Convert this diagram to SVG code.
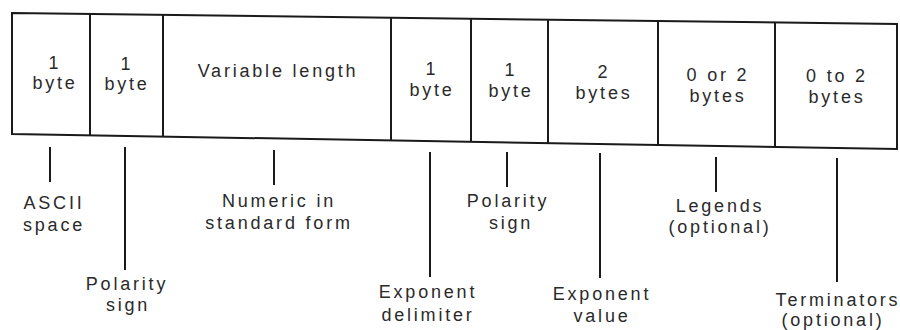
<svg xmlns="http://www.w3.org/2000/svg" width="900" height="330" viewBox="0 0 900 330">
<style>
.box{fill:none;stroke:#1a1a1a;stroke-width:2}
.div{stroke:#1a1a1a;stroke-width:2}
.lead{stroke:#1a1a1a;stroke-width:2}
text{font-family:"Liberation Sans",Arial,sans-serif;font-size:18px;fill:#2a2a2a;text-anchor:middle;letter-spacing:2.8px}
</style>
<rect width="900" height="330" fill="#ffffff"/>
<g id="record">
<polygon class="box" points="12,13 897,24 897,149 12,134"/>
<line class="div" x1="90" y1="14" x2="90" y2="135.3"/>
<line class="div" x1="163" y1="14.9" x2="163" y2="136.6"/>
<line class="div" x1="391" y1="17.7" x2="391" y2="140.4"/>
<line class="div" x1="471" y1="18.7" x2="471" y2="141.8"/>
<line class="div" x1="548" y1="19.7" x2="548" y2="143.1"/>
<line class="div" x1="658" y1="21" x2="658" y2="145"/>
<line class="div" x1="775" y1="22.5" x2="775" y2="146.9"/>
</g>
<g id="field1"><text x="55" y="69">1</text><text x="55" y="89">byte</text></g>
<g id="field2"><text x="127" y="70">1</text><text x="127" y="90">byte</text></g>
<g id="field3"><text x="278" y="77">Variable length</text></g>
<g id="field4"><text x="432" y="75">1</text><text x="432" y="96">byte</text></g>
<g id="field5"><text x="511" y="76">1</text><text x="511" y="97">byte</text></g>
<g id="field6"><text x="604" y="78">2</text><text x="604" y="99">bytes</text></g>
<g id="field7"><text x="718" y="81">0 or 2</text><text x="718" y="102">bytes</text></g>
<g id="field8"><text x="837" y="82">0 to 2</text><text x="837" y="103">bytes</text></g>
<g id="connectors">
<line class="lead" x1="50" y1="147" x2="50" y2="182"/>
<line class="lead" x1="125" y1="147" x2="125" y2="270"/>
<line class="lead" x1="274" y1="150" x2="274" y2="185"/>
<line class="lead" x1="430" y1="152" x2="430" y2="277"/>
<line class="lead" x1="507" y1="152" x2="507" y2="187"/>
<line class="lead" x1="600" y1="153" x2="600" y2="278"/>
<line class="lead" x1="716" y1="157" x2="716" y2="192"/>
<line class="lead" x1="837" y1="158" x2="837" y2="282"/>
</g>
<g id="label-ascii"><text x="54" y="209">ASCII</text><text x="54" y="231">space</text></g>
<g id="label-polarity1"><text x="127" y="290">Polarity</text><text x="128" y="311">sign</text></g>
<g id="label-numeric"><text x="279" y="207">Numeric in</text><text x="279" y="229">standard form</text></g>
<g id="label-expdelim"><text x="428" y="298">Exponent</text><text x="428" y="321">delimiter</text></g>
<g id="label-polarity2"><text x="508" y="207">Polarity</text><text x="511" y="229">sign</text></g>
<g id="label-expvalue"><text x="602" y="300">Exponent</text><text x="602" y="322">value</text></g>
<g id="label-legends"><text x="720" y="212">Legends</text><text x="720" y="233">(optional)</text></g>
<g id="label-terminators"><text x="838" y="306">Terminators</text><text x="833" y="326">(optional)</text></g>
</svg>
